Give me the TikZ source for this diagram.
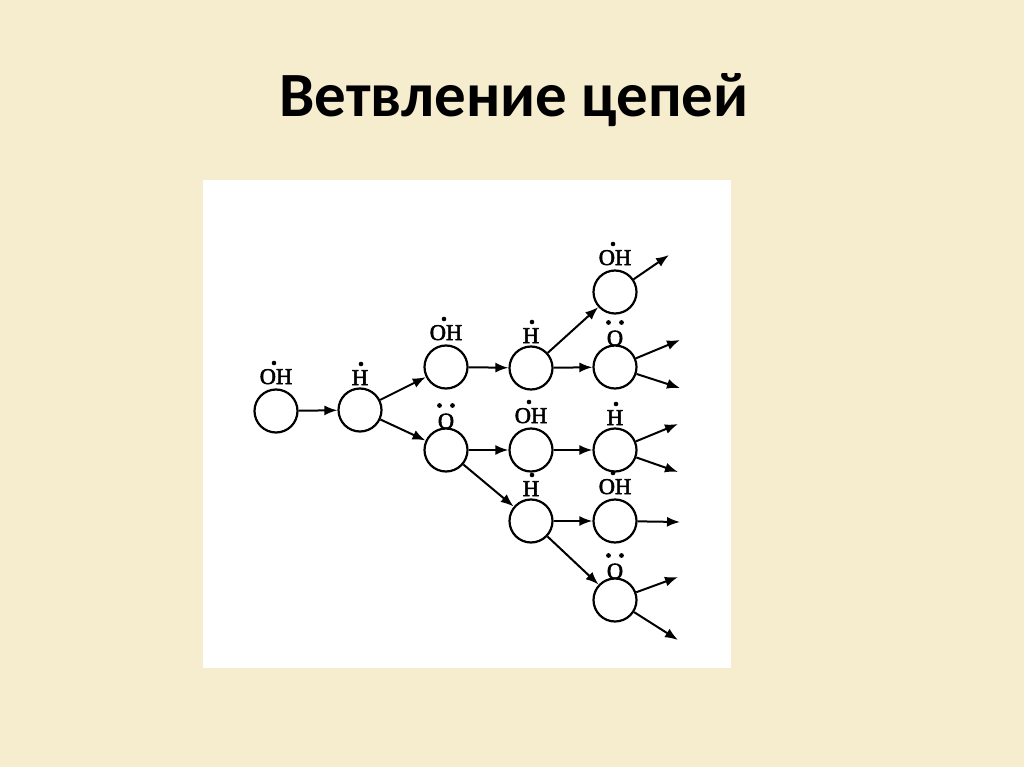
\documentclass[tikz,border=0pt]{standalone}
\usepackage{fontspec}
\setmainfont{Liberation Serif}
\newfontfamily\titlefont{Carlito}
\usetikzlibrary{arrows.meta}
\definecolor{bg}{RGB}{246,236,206}
\begin{document}
\begin{tikzpicture}[x=1pt,y=-1pt,
  st/.style={circle, draw, line width=2.2pt, minimum size=43pt, inner sep=0pt, fill=white},
  arr/.style={-{Latex[length=13pt,width=10pt]}, line width=2pt},
  lab/.style={anchor=base, inner sep=0pt, font=\fontsize{22.5}{22.5}\selectfont\addfontfeature{FakeBold=2.5}}]
\useasboundingbox (0,0) rectangle (1024,767);
\fill[bg] (0,0) rectangle (1024,767);
\node[anchor=base, inner sep=0pt, font=\titlefont\bfseries\fontsize{63}{63}\selectfont] (title) at (514,117) {Ветвление цепей};
\fill[white] (203,180) rectangle (731,668);
% circles
\node[st] (A) at (276,411) {};
\node[st] (B) at (360,410) {};
\node[st] (C) at (446,367) {};
\node[st] (D) at (446,450) {};
\node[st] (E) at (531,368) {};
\node[st] (F) at (615,292) {};
\node[st] (G) at (615,367) {};
\node[st] (M) at (531,450) {};
\node[st] (I) at (615,450) {};
\node[st] (J) at (531,521) {};
\node[st] (K) at (615,521) {};
\node[st] (L) at (615,600) {};
% labels
\foreach \n in {A,C,F,M,K}{
  \node[lab] (l\n) at ([yshift=27pt]\n.center) {OH};
  \fill ([xshift=-2pt,yshift=21pt]l\n.base) circle (2.3pt);
}
\foreach \n in {B,E,I,J}{
  \node[lab] (l\n) at ([yshift=25pt]\n.center) {H};
  \fill ([xshift=1pt,yshift=21pt]l\n.base) circle (2.3pt);
}
\foreach \n in {D,G,L}{
  \node[lab] (l\n) at ([yshift=21.5pt]\n.center) {O};
  \fill ([xshift=-6.5pt,yshift=23pt]l\n.base) circle (2.4pt);
  \fill ([xshift=6.5pt,yshift=23pt]l\n.base) circle (2.4pt);
}
% free ends
\coordinate (f1) at (669,255);
\coordinate (g1) at (680,340);
\coordinate (g2) at (680,388);
\coordinate (i1) at (678,424);
\coordinate (i2) at (678,472);
\coordinate (k1) at (680,522);
\coordinate (l1) at (678,577);
\coordinate (l2) at (678,640);
% connectors
\draw[arr] (A) -- (B);
\draw[arr] (B) -- (C);
\draw[arr] (B) -- (D);
\draw[arr] (C) -- (E);
\draw[arr] (E) -- (F);
\draw[arr] (E) -- (G);
\draw[arr] (D) -- (M);
\draw[arr] (D) -- (J);
\draw[arr] (M) -- (I);
\draw[arr] (J) -- (K);
\draw[arr] (J) -- (L);
\draw[arr] (F) -- (f1);
\draw[arr] (G) -- (g1);
\draw[arr] (G) -- (g2);
\draw[arr] (I) -- (i1);
\draw[arr] (I) -- (i2);
\draw[arr] (K) -- (k1);
\draw[arr] (L) -- (l1);
\draw[arr] (L) -- (l2);
\end{tikzpicture}
\end{document}
